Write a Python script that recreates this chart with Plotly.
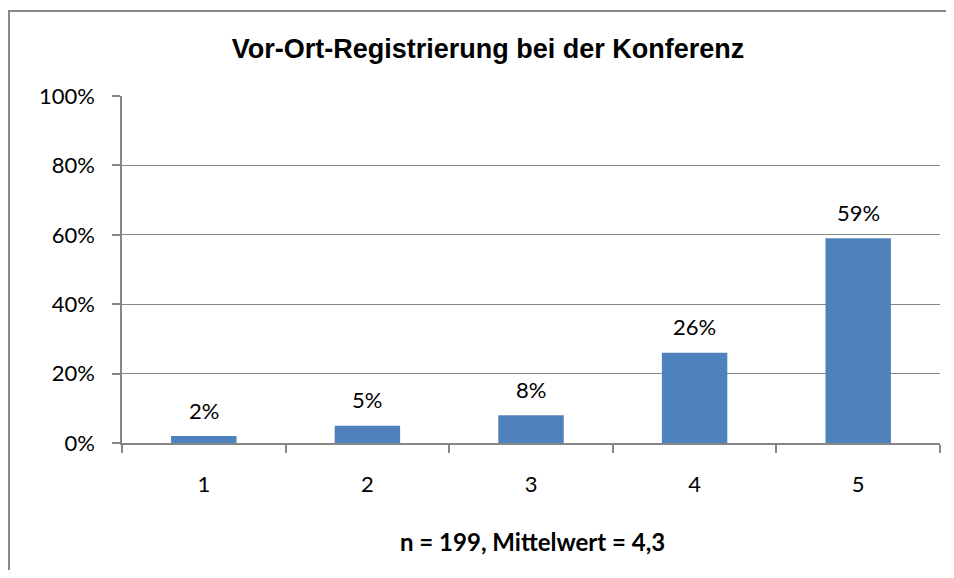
import plotly.graph_objects as go

categories = ["1", "2", "3", "4", "5"]
values = [2, 5, 8, 26, 59]
labels = ["2%", "5%", "8%", "26%", "59%"]
tick_vals = [0, 20, 40, 60, 80, 100]
tick_text = ["0%", "20%", "40%", "60%", "80%", "100%"]
title_text = "Vor-Ort-Registrierung bei der Konferenz"
x_title = "n = 199, Mittelwert = 4,3"

# page body has an 8px margin; figure coordinates = page coordinates - 8
OFF = 8
W, H = 938, 562
L, T = 122 - OFF, 96 - OFF
R = W - (940 - OFF)
B = H - (443 - OFF)
pw, ph = W - L - R, H - T - B

def px_x(x):
    return (x - OFF - L) / pw

def px_y(y):
    return (H - B - (y - OFF)) / ph

GRAY = "#868686"
NUMFONT = "Lato"

fig = go.Figure()
fig.add_trace(go.Bar(
    x=categories, y=values,
    marker=dict(color="#4F81BD", line=dict(width=0)),
    width=0.4,
))

for i, (v, t) in enumerate(zip(values, labels)):
    fig.add_annotation(x=i, y=v, text=t, showarrow=False, yanchor="middle", yshift=26,
                       font=dict(family=NUMFONT, size=22, color="#000000"))

fig.add_annotation(xref="paper", yref="paper", x=px_x(532), y=px_y(541),
                   text="<b>" + x_title + "</b>", showarrow=False,
                   xanchor="center", yanchor="middle",
                   font=dict(family=NUMFONT, size=24, color="#000000"))

fig.update_layout(
    width=W, height=H,
    margin=dict(l=L, r=R, t=T, b=B),
    paper_bgcolor="white", plot_bgcolor="white",
    showlegend=False,
    title=dict(text="<b>" + title_text + "</b>", x=(488 - OFF) / W, xref="container", xanchor="center",
               y=1 - (49 - OFF) / H, yref="container", yanchor="middle",
               font=dict(family="Liberation Sans", size=27, color="#000000")),
    xaxis=dict(type="category", showgrid=False, showline=True, linecolor=GRAY, linewidth=1.5,
               ticks="outside", ticklen=8, tickcolor=GRAY, tickwidth=1.5, tickson="boundaries",
               ticklabelstandoff=21,
               tickfont=dict(family=NUMFONT, size=22, color="#000000")),
    yaxis=dict(range=[0, 100], tickvals=tick_vals, ticktext=tick_text,
               showgrid=True, gridcolor=GRAY, gridwidth=1,
               showline=True, linecolor=GRAY, linewidth=1.5,
               ticks="outside", ticklen=8, tickcolor=GRAY, tickwidth=1.5,
               ticklabelstandoff=13,
               tickfont=dict(family=NUMFONT, size=22, color="#000000"),
               zeroline=False),
)

# chart-area border: only the left and top edges fall inside the picture
fig.add_shape(type="path", xref="paper", yref="paper",
              path="M {x0},{y0} L {x0},{y1} L {x1},{y1}".format(x0=px_x(9), y0=px_y(620), y1=px_y(11), x1=px_x(990)),
              line=dict(color="#888888", width=2), layer="above")

fig.write_html("out.html")
